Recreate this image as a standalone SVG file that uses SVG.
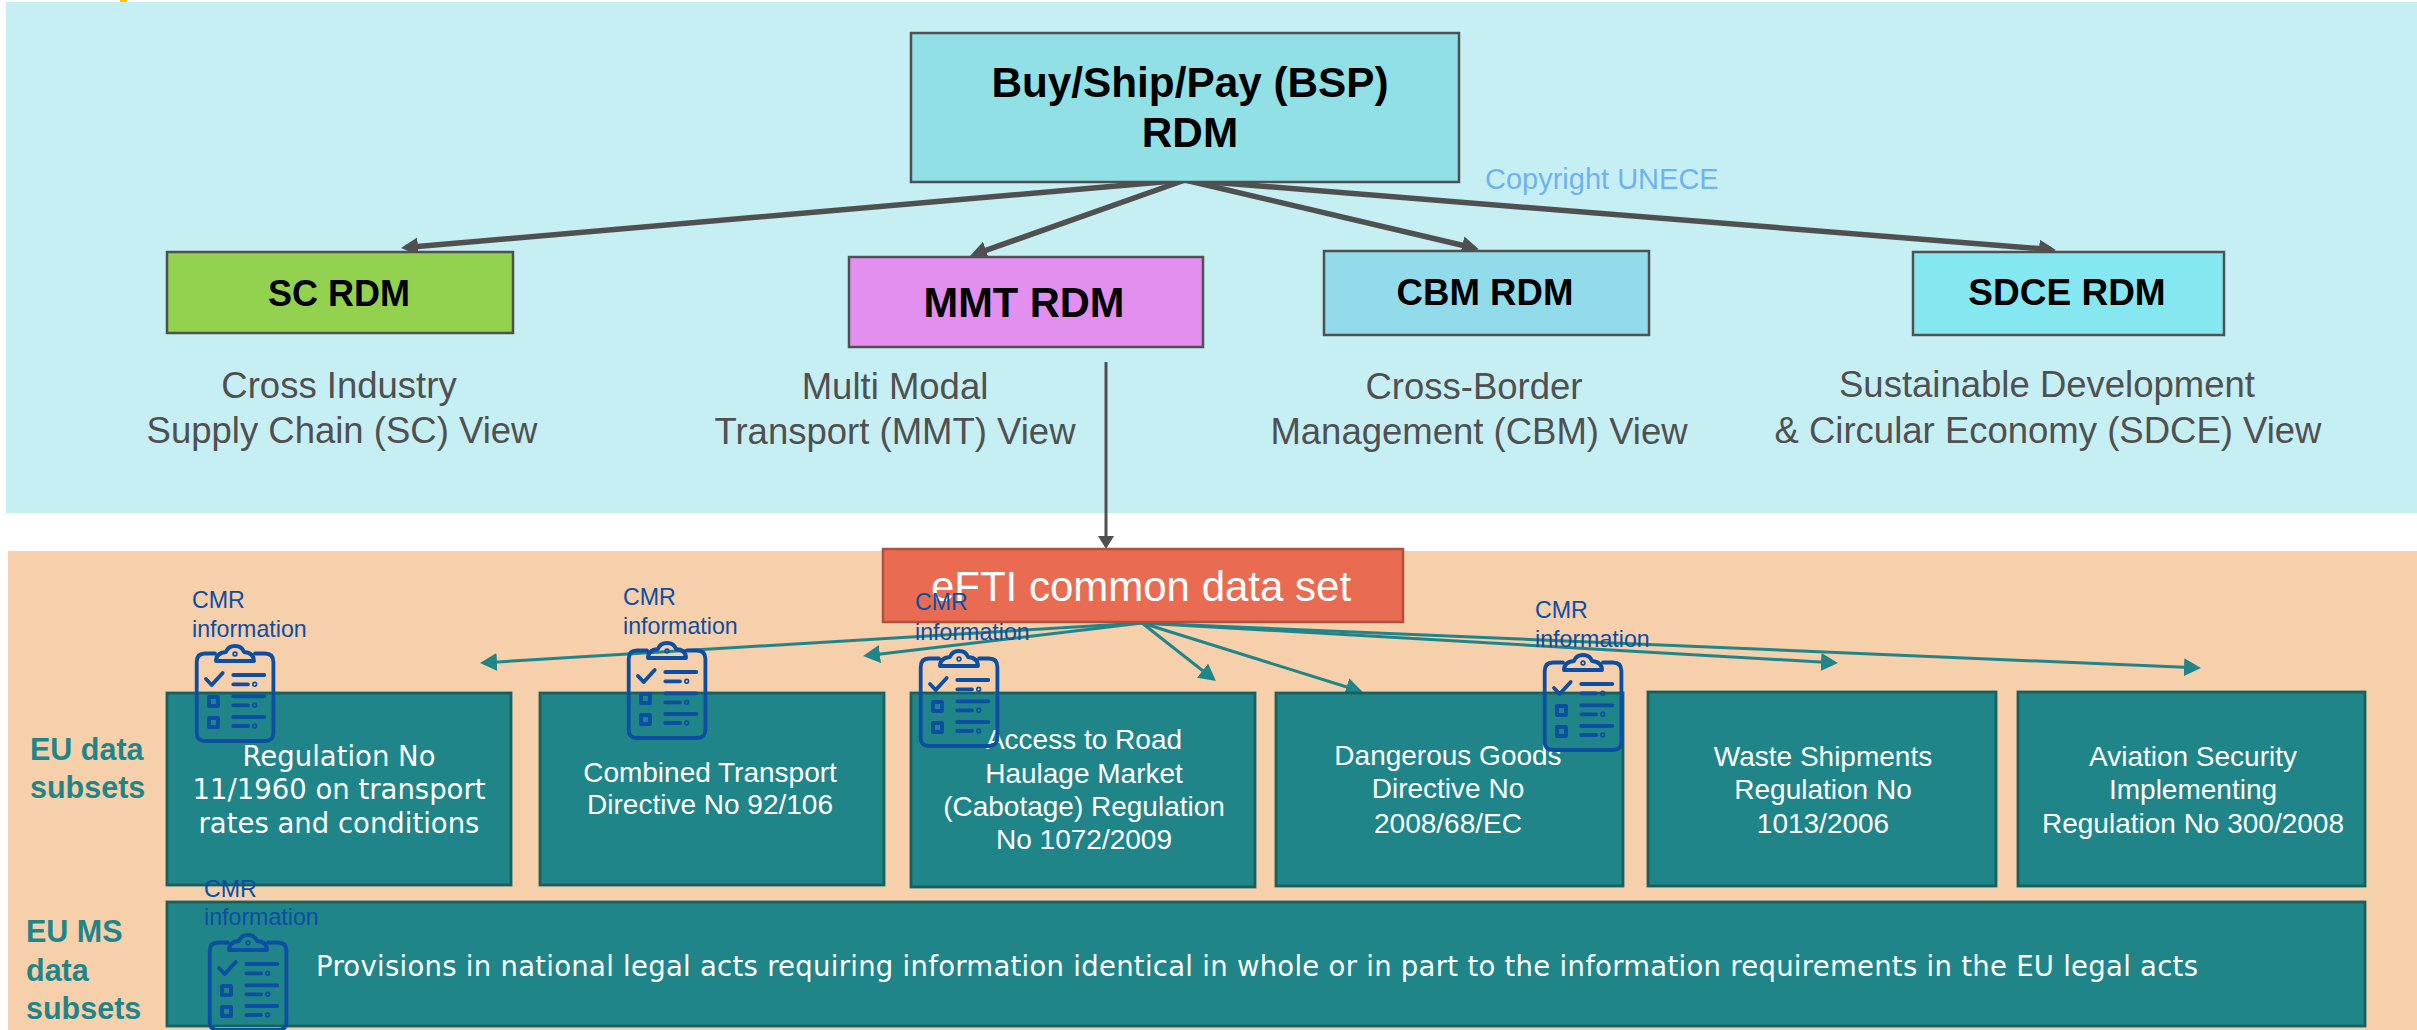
<svg xmlns="http://www.w3.org/2000/svg" width="2417" height="1030" viewBox="0 0 2417 1030">
<style>
text{font-family:"Liberation Sans",Arial,sans-serif}
.rdm{stroke:#505050;stroke-width:2.5}
.bt{font-weight:bold;fill:#000;text-anchor:middle}
.v{font-size:36.5px;fill:#505050;text-anchor:middle}
.eu{fill:#1f8589;stroke:#17605f;stroke-width:2.8}
.w{font-size:28px;fill:#fff;text-anchor:middle}
.d{font-family:"DejaVu Sans",sans-serif;font-size:27.5px}
.l{font-size:30.5px;font-weight:bold;fill:#1f8589}
.cmr{font-size:23.2px;fill:#0b4ea2}
.dk{stroke:#505050;stroke-width:5.5;fill:none;marker-end:url(#ad)}
.tl{stroke:#1f8589;stroke-width:3;fill:none;marker-end:url(#at)}
.ic{fill:none;stroke:#0b4ea2;stroke-width:3.8;stroke-linecap:round;stroke-linejoin:round}
</style>
<defs>
<marker id="ad" markerUnits="userSpaceOnUse" markerWidth="20" markerHeight="20" refX="12" refY="9" orient="auto"><path d="M0 0L17 9L0 18z" fill="#505050"/></marker>
<marker id="av" markerUnits="userSpaceOnUse" markerWidth="20" markerHeight="20" refX="8" refY="8" orient="auto"><path d="M0 0L13 8L0 16z" fill="#505050"/></marker>
<marker id="at" markerUnits="userSpaceOnUse" markerWidth="20" markerHeight="20" refX="12" refY="9" orient="auto"><path d="M0 0L17 9L0 18z" fill="#1f8589"/></marker>
<g id="clip" class="ic">
<path d="M20 9.5H10Q1.7 9.5 1.7 18V89Q1.7 97 10 97H70Q78.4 97 78.4 89V18Q78.4 9.5 70 9.5H60"/>
<path d="M21 17Q21 9 31 8Q33 2 40 2Q47 2 49 8Q59 9 59 17Z"/>
<path d="M11 35L16.7 41L27.7 29"/>
<path d="M38.3 31H69.3M38.3 40.3H53M38.3 52.3H69.3M38.3 61.3H53M38.3 73H69.3M38.3 82H53"/>
<rect x="14" y="53" width="9" height="9"/><rect x="14" y="74" width="9" height="9"/>
<circle cx="40" cy="10" r="0.8"/><circle cx="59.7" cy="40.3" r="0.8"/><circle cx="59.7" cy="61.3" r="0.8"/><circle cx="59.7" cy="82" r="0.8"/>
</g>
</defs>
<rect width="2417" height="1030" fill="#fff"/>
<rect x="120" y="0" width="7" height="2" fill="#ffc000"/>
<rect x="6" y="2" width="2411" height="511" fill="#c6eff3"/>
<rect x="8" y="551" width="2409" height="479" fill="#f6cfab"/>
<text x="1485" y="189" font-size="29" fill="#6fb3ee">Copyright UNECE</text>
<g id="connectors">
<path class="dk" d="M1185 180L406 247.6"/>
<path class="dk" d="M1185 180L974.7 254.3"/>
<path class="dk" d="M1185 180L1474 248"/>
<path class="dk" d="M1185 180L2051 249.6"/>
<path d="M1106 362V544" stroke="#505050" stroke-width="3" fill="none" marker-end="url(#av)"/>
<path class="tl" d="M1142 623L485 662.7"/>
<path class="tl" d="M1142 623L868 655.4"/>
<path class="tl" d="M1142 623L1212 678"/>
<path class="tl" d="M1142 623L1358 690.5"/>
<path class="tl" d="M1142 623L1833 662.7"/>
<path class="tl" d="M1142 623L2196 667.8"/>
</g>
<g id="bsp"><rect class="rdm" x="911" y="33" width="548" height="149" fill="#90e0e6"/><text class="bt" font-size="42.3" x="1190" y="97">Buy/Ship/Pay (BSP)</text><text class="bt" font-size="42.3" x="1190" y="147">RDM</text></g>
<g id="sc"><rect class="rdm" x="167" y="252" width="346" height="81" fill="#92d24e"/><text class="bt" font-size="36" x="339" y="306">SC RDM</text></g>
<g id="sc-view"><text class="v" x="339" y="398">Cross Industry</text><text class="v" x="342" y="443">Supply Chain (SC) View</text></g>
<g id="mmt"><rect class="rdm" x="849" y="257" width="354" height="90" fill="#e28fef"/><text class="bt" font-size="41.6" x="1024" y="317">MMT RDM</text></g>
<g id="mmt-view"><text class="v" x="895" y="399">Multi Modal</text><text class="v" x="895" y="444">Transport (MMT) View</text></g>
<g id="cbm"><rect class="rdm" x="1324" y="251" width="325" height="84" fill="#92dbeb"/><text class="bt" font-size="36.6" x="1485" y="305">CBM RDM</text></g>
<g id="cbm-view"><text class="v" x="1474" y="399">Cross-Border</text><text class="v" x="1479" y="444">Management (CBM) View</text></g>
<g id="sdce"><rect class="rdm" x="1913" y="252" width="311" height="83" fill="#85e8f1"/><text class="bt" font-size="37" x="2067" y="305">SDCE RDM</text></g>
<g id="sdce-view"><text class="v" x="2047" y="397">Sustainable Development</text><text class="v" x="2048" y="443">&amp; Circular Economy (SDCE) View</text></g>
<g id="efti"><rect x="883" y="549" width="520" height="73" fill="#e96c52" stroke="#b0503e" stroke-width="2.5"/><text x="1141" y="601" font-size="42" fill="#fff" text-anchor="middle">eFTI common data set</text></g>
<g id="label-eu"><text class="l" x="30" y="760">EU data</text><text class="l" x="30" y="798">subsets</text></g>
<g id="label-ms"><text class="l" x="26" y="942">EU MS</text><text class="l" x="26" y="981">data</text><text class="l" x="26" y="1019">subsets</text></g>
<g id="reg1"><rect class="eu" x="167" y="693" width="344" height="192"/><text class="w d" x="339" y="766">Regulation No</text><text class="w d" x="339" y="799">11/1960 on transport</text><text class="w d" x="339" y="833">rates and conditions</text></g>
<g id="reg2"><rect class="eu" x="540" y="693" width="344" height="192"/><text class="w" x="710" y="782">Combined Transport</text><text class="w" x="710" y="814">Directive No 92/106</text></g>
<g id="reg3"><rect class="eu" x="911" y="693" width="344" height="194"/><text class="w" x="1084" y="749">Access to Road</text><text class="w" x="1084" y="783">Haulage Market</text><text class="w" x="1084" y="816">(Cabotage) Regulation</text><text class="w" x="1084" y="849">No 1072/2009</text></g>
<g id="reg4"><rect class="eu" x="1276" y="693" width="347" height="193"/><text class="w" x="1448" y="765">Dangerous Goods</text><text class="w" x="1448" y="798">Directive No</text><text class="w" x="1448" y="833">2008/68/EC</text></g>
<g id="reg5"><rect class="eu" x="1648" y="692" width="348" height="194"/><text class="w" x="1823" y="766">Waste Shipments</text><text class="w" x="1823" y="799">Regulation No</text><text class="w" x="1823" y="833">1013/2006</text></g>
<g id="reg6"><rect class="eu" x="2018" y="692" width="347" height="194"/><text class="w" x="2193" y="766">Aviation Security</text><text class="w" x="2193" y="799">Implementing</text><text class="w" x="2193" y="833">Regulation No 300/2008</text></g>
<g id="ms"><rect class="eu" x="167" y="902" width="2198" height="124"/><text class="d" fill="#fff" x="316" y="976" textLength="1882" lengthAdjust="spacing">Provisions in national legal acts requiring information identical in whole or in part to the information requirements in the EU legal acts</text></g>
<g id="cmr1"><use href="#clip" x="195" y="644"/><text class="cmr" x="192" y="608">CMR</text><text class="cmr" x="192" y="637">information</text></g>
<g id="cmr2"><use href="#clip" x="627" y="641"/><text class="cmr" x="623" y="605">CMR</text><text class="cmr" x="623" y="634">information</text></g>
<g id="cmr3"><use href="#clip" x="919" y="649"/><text class="cmr" x="915" y="610">CMR</text><text class="cmr" x="915" y="640">information</text></g>
<g id="cmr4"><use href="#clip" x="1543" y="653"/><text class="cmr" x="1535" y="618">CMR</text><text class="cmr" x="1535" y="647">information</text></g>
<g id="cmr5"><use href="#clip" x="208" y="933"/><text class="cmr" x="204" y="897">CMR</text><text class="cmr" x="204" y="925">information</text></g>
</svg>
